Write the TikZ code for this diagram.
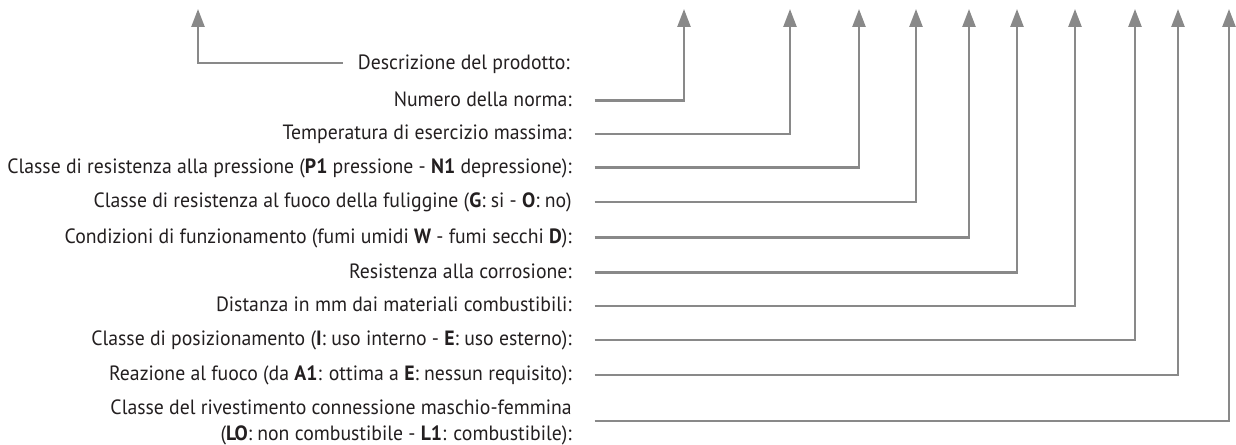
\documentclass[tikz,border=0pt]{standalone}
\usepackage{fontspec}
\setmainfont{PT Sans}[FakeStretch=0.955]
\usetikzlibrary{arrows.meta}
\definecolor{leadgray}{RGB}{137,137,137}
\definecolor{textgray}{RGB}{35,31,32}
\tikzset{lbl/.style = {anchor = east, inner sep = 0pt, text = textgray,
    font = \fontsize{15.5}{19}\selectfont, text height = 11.5pt, text depth = 2.5pt}}
\tikzset{lead/.style = {draw = leadgray, line width = 1.9pt,
    -{Triangle[length = 13.5pt, width = 9.75pt]}}}

\begin{document}
\begin{tikzpicture}[x = 0.75pt, y = -0.75pt]
\useasboundingbox (0,0) rectangle (1236,445);
% labels
\node [lbl] (d0) at (570,64) {Descrizione del prodotto:};
\node [lbl] (d1) at (572,100.7) {Numero della norma:};
\node [lbl] (d2) at (572,134) {Temperatura di esercizio massima:};
\node [lbl] (d3) at (572,167.3) {Classe di resistenza alla pressione (\textbf{P1} pressione - \textbf{N1} depressione):};
\node [lbl] (d4) at (572,202) {Classe di resistenza al fuoco della fuliggine (\textbf{G}: si - \textbf{O}: no)};
\node [lbl] (d5) at (572,237.7) {Condizioni di funzionamento (fumi umidi \textbf{W} - fumi secchi \textbf{D}):};
\node [lbl] (d6) at (572,272.3) {Resistenza alla corrosione:};
\node [lbl] (d7) at (572,306) {Distanza in mm dai materiali combustibili:};
\node [lbl] (d8) at (572,340) {Classe di posizionamento (\textbf{I}: uso interno - \textbf{E}: uso esterno):};
\node [lbl] (d9) at (572,375) {Reazione al fuoco (da \textbf{A1}: ottima a \textbf{E}: nessun requisito):};
\node [lbl, text height = , text depth = , align = right] (d10) at (572,422.5)
  {Classe del rivestimento connessione maschio-femmina\\(\textbf{LO}: non combustibile - \textbf{L1}: combustibile):};
% arrow tips
\coordinate (t0) at (198,9);
\coordinate (t1) at (684,9);
\coordinate (t2) at (790,9);
\coordinate (t3) at (859,9);
\coordinate (t4) at (916,9);
\coordinate (t5) at (969,9);
\coordinate (t6) at (1017,9);
\coordinate (t7) at (1075,9);
\coordinate (t8) at (1135,9);
\coordinate (t9) at (1178,9);
\coordinate (t10) at (1229,9);
% leaders
\draw [lead] ([xshift = -11pt, yshift = 0.75pt]d0.west) -| (t0);
\draw [lead] ([xshift = 17pt]d1.east) -| (t1);
\draw [lead] ([xshift = 17pt]d2.east) -| (t2);
\draw [lead] ([xshift = 17pt]d3.east) -| (t3);
\draw [lead] ([xshift = 17pt]d4.east) -| (t4);
\draw [lead] ([xshift = 17pt]d5.east) -| (t5);
\draw [lead] ([xshift = 17pt]d6.east) -| (t6);
\draw [lead] ([xshift = 17pt]d7.east) -| (t7);
\draw [lead] ([xshift = 17pt]d8.east) -| (t8);
\draw [lead] ([xshift = 17pt]d9.east) -| (t9);
\draw [lead] ([xshift = 17pt, yshift = 1.1pt]d10.east) -| (t10);
\end{tikzpicture}
\end{document}
